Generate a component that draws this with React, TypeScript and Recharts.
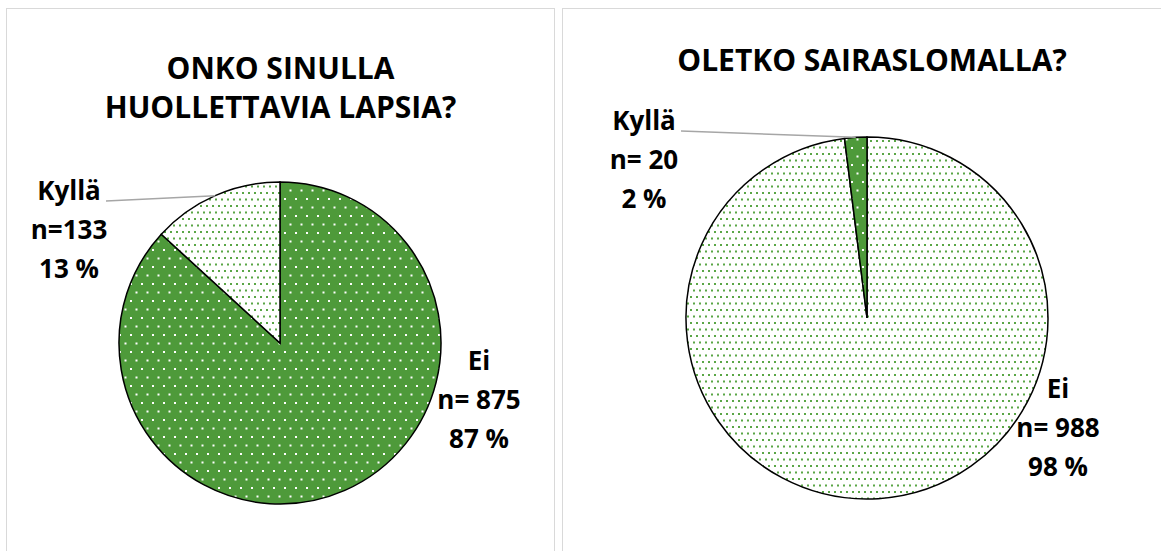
import { PieChart, Pie, Cell } from 'recharts';

// values
const CATEGORIES = ['Ei', 'Kyllä'];
const CHILDREN_COUNTS = [875, 133];
const CHILDREN_PCT = [87, 13];
const CHILDREN_N_SEP = [' ', ''];
const SICK_COUNTS = [988, 20];
const SICK_PCT = [98, 2];
const SICK_N_SEP = [' ', ' '];

const TITLE_LEFT = ['ONKO SINULLA', 'HUOLLETTAVIA LAPSIA?'];
const TITLE_RIGHT = ['OLETKO SAIRASLOMALLA?'];

const FONT = '"Open Sans", "Noto Sans", sans-serif';
const RADIAN = Math.PI / 180;
const NO_MARGIN = { top: 0, right: 0, bottom: 0, left: 0 };

const buildRows = (counts: number[], pct: number[], sep: string[]) =>
  CATEGORIES.map((name, i) => ({
    name,
    value: counts[i],
    nText: `n=${sep[i]}${counts[i]}`,
    pctText: `${pct[i]} %`,
  }));

const leftRows = buildRows(CHILDREN_COUNTS, CHILDREN_PCT, CHILDREN_N_SEP);
const rightRows = buildRows(SICK_COUNTS, SICK_PCT, SICK_N_SEP);

// label placement relative to pie centre (first baseline), leader for small slice
interface LabelPos { dx: number; dy: number; leader: boolean; }
const LEFT_LABELS: LabelPos[] = [
  { dx: 199, dy: 27, leader: false },
  { dx: -211, dy: -143, leader: true },
];
const RIGHT_LABELS: LabelPos[] = [
  { dx: 191, dy: 80, leader: false },
  { dx: -223, dy: -188, leader: true },
];

const makeLabel = (layout: LabelPos[]) => (props: any) => {
  const { cx, cy, midAngle, outerRadius, index, payload } = props;
  const pos = layout[index];
  const x = cx + pos.dx;
  const y = cy + pos.dy;
  const row = payload && payload.nText ? payload : props;
  const lines = [row.name, row.nText, row.pctText];
  const ex = cx + outerRadius * Math.cos(-midAngle * RADIAN);
  const ey = cy + outerRadius * Math.sin(-midAngle * RADIAN);
  return (
    <g>
      {pos.leader && (
        <line x1={x + 37} y1={y + 1} x2={ex} y2={ey} stroke="#a6a6a6" strokeWidth={1.5} />
      )}
      {lines.map((t, i) => (
        <text
          key={i}
          x={x}
          y={y + i * 39}
          textAnchor="middle"
          fontFamily={FONT}
          fontWeight={700}
          fontSize={26}
          fill="#000"
        >
          {t}
        </text>
      ))}
    </g>
  );
};

function Panel({ left, width, title, titleTop }: { left: number; width: number; title: string[]; titleTop: number }) {
  return (
    <div
      style={{
        position: 'absolute',
        left,
        top: 8,
        width,
        height: 600,
        border: '1.5px solid #d9d9d9',
        boxSizing: 'border-box',
      }}
    >
      <div
        style={{
          position: 'absolute',
          left: 0,
          right: 0,
          top: titleTop,
          textAlign: 'center',
          fontFamily: FONT,
          fontWeight: 700,
          fontSize: 30,
          lineHeight: '39px',
          color: '#000',
        }}
      >
        {title.map((t) => (
          <div key={t}>{t}</div>
        ))}
      </div>
    </div>
  );
}

export default function App() {
  return (
    <div style={{ position: 'absolute', left: 0, top: 0, width: 1161, height: 551, overflow: 'hidden', background: '#fff' }}>
      <svg width={0} height={0} style={{ position: 'absolute' }}>
        <defs>
          <pattern id="darkDots" patternUnits="userSpaceOnUse" width={11} height={17}>
            <rect width={11} height={17} fill="#4e9a3a" />
            <rect x={2} y={2} width={2} height={2} fill="#fff" />
            <rect x={7.5} y={10.5} width={2} height={2} fill="#fff" />
          </pattern>
          <pattern id="lightDots" patternUnits="userSpaceOnUse" width={12} height={13}>
            <rect width={12} height={13} fill="#fff" />
            <rect x={1} y={1} width={2} height={2} fill="#5aa646" />
            <rect x={7} y={1} width={2} height={2} fill="#5aa646" />
            <rect x={4} y={7.5} width={2} height={2} fill="#5aa646" />
            <rect x={10} y={7.5} width={2} height={2} fill="#5aa646" />
          </pattern>
        </defs>
      </svg>

      <Panel left={6} width={549} title={TITLE_LEFT} titleTop={39} />
      <Panel left={562} width={620} title={TITLE_RIGHT} titleTop={31} />

      <div style={{ position: 'absolute', left: 7, top: 9 }}>
        <PieChart width={547} height={542} margin={NO_MARGIN}>
          <Pie
            data={leftRows}
            dataKey="value"
            nameKey="name"
            cx={273}
            cy={334}
            outerRadius={161}
            startAngle={90}
            endAngle={-270}
            stroke="#000"
            strokeWidth={1.5}
            label={makeLabel(LEFT_LABELS)}
            labelLine={false}
            isAnimationActive={false}
          >
            <Cell fill="url(#darkDots)" />
            <Cell fill="url(#lightDots)" />
          </Pie>
        </PieChart>
      </div>

      <div style={{ position: 'absolute', left: 563, top: 9 }}>
        <PieChart width={598} height={542} margin={NO_MARGIN}>
          <Pie
            data={rightRows}
            dataKey="value"
            nameKey="name"
            cx={304}
            cy={309}
            outerRadius={181}
            startAngle={90}
            endAngle={-270}
            stroke="#000"
            strokeWidth={1.5}
            label={makeLabel(RIGHT_LABELS)}
            labelLine={false}
            isAnimationActive={false}
          >
            <Cell fill="url(#lightDots)" />
            <Cell fill="url(#darkDots)" />
          </Pie>
        </PieChart>
      </div>
    </div>
  );
}
